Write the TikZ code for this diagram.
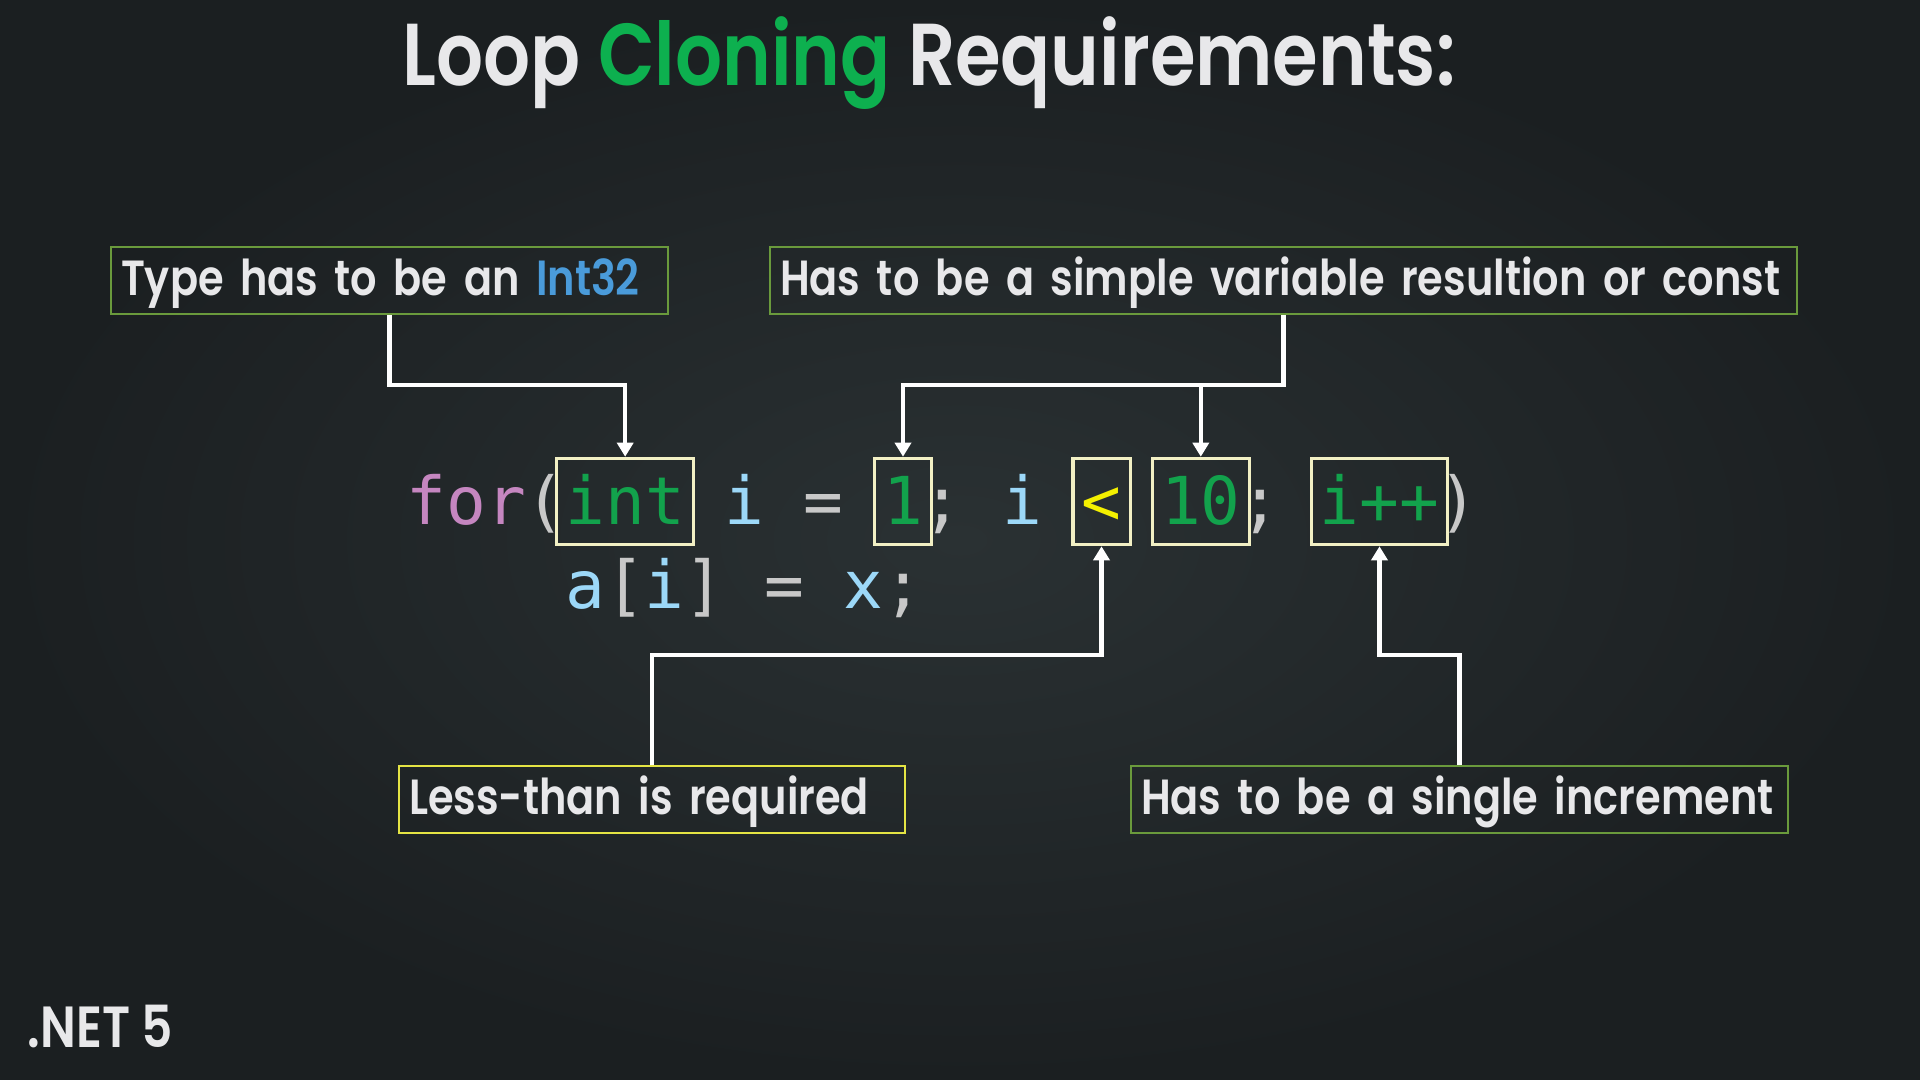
\documentclass[tikz,border=0pt]{standalone}
\usepackage{fontspec}
\setmainfont{Poppins}[FakeStretch=0.84, BoldFont={Poppins SemiBold}, BoldFeatures={FakeStretch=0.84}]
\newfontfamily\codefont{DejaVu Sans Mono}
\usetikzlibrary{arrows.meta,fit}

\definecolor{bgin}{HTML}{2A3133}
\definecolor{bgout}{HTML}{1B1F21}
\definecolor{txtwhite}{HTML}{E8E8EA}
\definecolor{clgreen}{HTML}{0DB04F}
\definecolor{intblue}{HTML}{4A9BDA}
\definecolor{boxgreen}{HTML}{6A9A3C}
\definecolor{boxyellow}{HTML}{E4E444}
\definecolor{boxpale}{HTML}{F2F0C4}
\definecolor{kwpurple}{HTML}{C586C0}
\definecolor{codegreen}{HTML}{12A24C}
\definecolor{codeblue}{HTML}{9CD8F8}
\definecolor{codegray}{HTML}{C8C8C8}
\definecolor{codeyellow}{HTML}{F4F000}

\newcommand{\cw}{0.397}

\begin{document}
\begin{tikzpicture}[
  lbl/.style={draw=boxgreen, line width=0.6pt, text=txtwhite, font=\bfseries\fontsize{14.05}{17}\selectfont,
    anchor=north west, align=left, inner xsep=0.1cm, inner ysep=0.065cm, text height=0.42cm, text depth=0.12cm},
  code/.style={font=\fontsize{18.8}{22}\selectfont\codefont, inner sep=0pt, anchor=base west,
    text height=0.62cm, text depth=0.17cm},
  codebox/.style={draw=boxpale, line width=0.9pt, inner xsep=0.08cm, inner ysep=0.03cm},
  conn/.style={draw=white, line width=1.2pt, -{Triangle[width=0.16cm,length=0.14cm]}}
]
\useasboundingbox (0,0) rectangle (19.2,-10.8);
\shade[inner color=bgin, outer color=bgout] (0,0) rectangle (19.2,-10.8);

% title
\node[font=\bfseries\fontsize{25}{30}\selectfont, text=txtwhite, anchor=base] (title) at (9.29,-0.86)
  {Loop \textcolor{clgreen}{Cloning} Requirements:};

% the loop
\foreach \k/\t/\c in {0/for/kwpurple, 3/{(}/codegray, 8/i/codeblue, 10/=/codegray, 13/;/codegray,
    15/i/codeblue, 21/;/codegray, 26/{)}/codegray}
  \node[code, text=\c] at ({4.06+\k*\cw},-5.24) {\t};
\node[code, text=codegreen] (int) at ({4.06+4*\cw},-5.24) {int};
\node[code, text=codegreen] (one) at ({4.06+12*\cw},-5.24) {1};
\node[code, text=codeyellow] (lt) at ({4.06+17*\cw},-5.24) {<};
\node[code, text=codegreen] (ten) at ({4.06+19*\cw},-5.24) {10};
\node[code, text=codegreen] (inc) at ({4.06+23*\cw},-5.24) {i++};
\foreach \k/\t/\c in {4/a/codeblue, 5/{[}/codegray, 6/i/codeblue, 7/{]}/codegray, 9/=/codegray,
    11/x/codeblue, 12/;/codegray}
  \node[code, text=\c] at ({4.06+\k*\cw},-6.08) {\t};

\node[codebox, fit=(int)] (intbox) {};
\node[codebox, fit=(one)] (onebox) {};
\node[codebox, fit=(lt)] (ltbox) {};
\node[codebox, fit=(ten)] (tenbox) {};
\node[codebox, fit=(inc)] (incbox) {};

% labels
\node[lbl, text width=5.37cm] (type) at (1.10,-2.46) {\mbox{Type has to be an \textcolor{intblue}{Int32}}};
\node[lbl, text width=10.07cm] (simple) at (7.69,-2.46) {\mbox{Has to be a simple variable resultion or const}};
\node[lbl, draw=boxyellow, text width=4.86cm] (less) at (3.98,-7.65) {\mbox{Less-than is required}};
\node[lbl, text width=6.37cm] (incr) at (11.30,-7.65) {\mbox{Has to be a single increment}};

\draw[conn] (type.south) -- ++(0,-0.7) -| (intbox.north);
\draw[conn] (simple.south) -- ++(0,-0.7) coordinate (split) -| (onebox.north);
\draw[conn] (split -| tenbox.north) -- (tenbox.north);
\draw[conn] (less.north) -- ++(0,1.1) -| (ltbox.south);
\draw[conn] (incr.north) -- ++(0,1.1) -| (incbox.south);

\node[font=\bfseries\fontsize{16.5}{20}\selectfont, text=txtwhite, anchor=base west, inner sep=0pt] (net)
  at (0.27,-10.47) {.NET 5};
\end{tikzpicture}
\end{document}
